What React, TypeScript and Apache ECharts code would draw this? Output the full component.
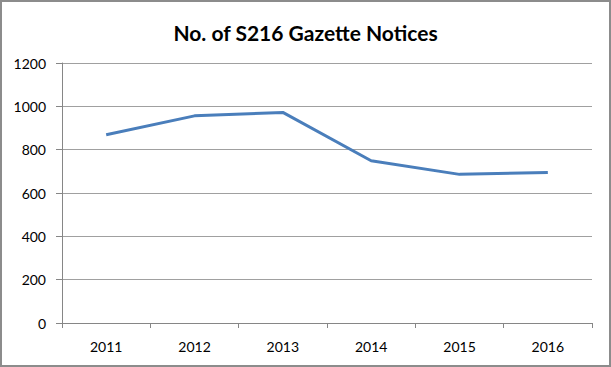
import React, { useEffect, useRef } from "react";
import * as echarts from "echarts";

const years = ["2011", "2012", "2013", "2014", "2015", "2016"];
const notices = [869, 956, 972, 749, 686, 695];
const yTicks = { min: 0, max: 1200, interval: 200 };

export default function App() {
  const ref = useRef<HTMLDivElement>(null);
  useEffect(() => {
    const chart = echarts.init(ref.current!, null, { renderer: "svg" });
    const font = "Lato, 'Open Sans', sans-serif";
    chart.setOption({
      animation: false,
      backgroundColor: "#ffffff",
      title: {
        text: "No. of S216 Gazette Notices",
        left: "center",
        top: 17,
        textStyle: { fontFamily: font, fontWeight: "bold", fontSize: 21, color: "#000" },
      },
      graphic: [
        {
          type: "rect",
          shape: { x: 1, y: 1, width: 609, height: 365 },
          style: { fill: "none", stroke: "#8c8c8c", lineWidth: 2 },
          silent: true,
        },
      ],
      grid: { left: 62, right: 19, top: 63, bottom: 44 },
      xAxis: {
        type: "category",
        data: years,
        boundaryGap: true,
        axisLine: { lineStyle: { color: "#868686", width: 1 } },
        axisTick: { show: true, length: 5, inside: false, lineStyle: { color: "#868686" } },
        axisLabel: { color: "#000", fontFamily: font, fontSize: 14, margin: 16 },
        splitLine: { show: false },
      },
      yAxis: {
        type: "value",
        min: yTicks.min,
        max: yTicks.max,
        interval: yTicks.interval,
        axisLine: { show: true, lineStyle: { color: "#868686", width: 1 } },
        axisTick: { show: true, length: 6, lineStyle: { color: "#868686" } },
        axisLabel: {
          color: "#000",
          fontFamily: font,
          fontSize: 14,
          margin: 16,
          formatter: (v: number) => String(v),
        },
        splitLine: { show: true, lineStyle: { color: "#a0a0a0", width: 1 } },
      },
      series: [
        {
          type: "line",
          data: notices,
          showSymbol: false,
          symbol: "none",
          lineStyle: { color: "#4a7ebb", width: 3 },
          itemStyle: { color: "#4a7ebb" },
        },
      ],
    });
    return () => chart.dispose();
  }, []);
  return (
    <div
      ref={ref}
      style={{ position: "absolute", left: 0, top: 0, width: 611, height: 367 }}
    />
  );
}
